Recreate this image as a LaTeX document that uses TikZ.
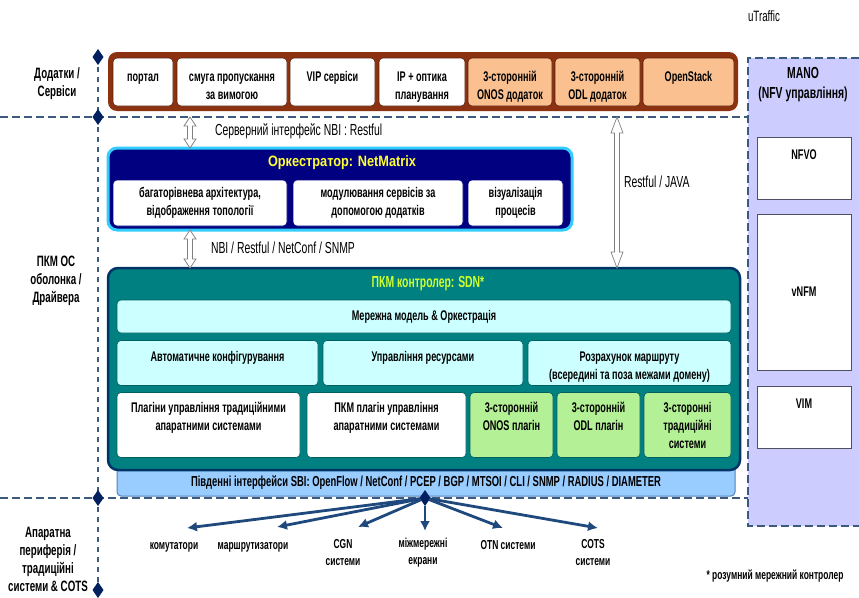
\documentclass[tikz,border=0pt]{standalone}
\usepackage{fontspec}
\setmainfont{Liberation Sans}[FakeStretch=0.65]
\newfontfamily\titlefont{Liberation Sans}[FakeStretch=0.85]
\usetikzlibrary{shapes.geometric,arrows.meta,calc}

\definecolor{c8c3210}{RGB}{140,50,16}
\definecolor{c5a1e0a}{RGB}{90,30,10}
\definecolor{cfac090}{RGB}{250,192,144}
\definecolor{c000080}{RGB}{0,0,128}
\definecolor{c33ccff}{RGB}{51,204,255}
\definecolor{cffff33}{RGB}{255,255,51}
\definecolor{c008080}{RGB}{0,128,128}
\definecolor{c006060}{RGB}{0,96,96}
\definecolor{c003366}{RGB}{0,51,102}
\definecolor{cccff33}{RGB}{204,255,51}
\definecolor{cccffff}{RGB}{204,255,255}
\definecolor{cb4f096}{RGB}{180,240,150}
\definecolor{c99ccff}{RGB}{153,204,255}
\definecolor{c4f81bd}{RGB}{79,129,189}
\definecolor{cccccff}{RGB}{204,204,255}
\definecolor{c3c5a7d}{RGB}{60,90,125}
\definecolor{c002060}{RGB}{0,32,96}
\definecolor{c1f497d}{RGB}{31,73,125}
\definecolor{c808080}{RGB}{128,128,128}
\definecolor{c505064}{RGB}{80,80,100}

\tikzset{
  cellsize/.style 2 args={minimum width=#1, text width=#1, minimum height=#2},
  cellbox/.style={rounded corners=4pt, align=flush center, line width=0.6pt},
  appcell/.style={cellbox, fill=white, draw=c5a1e0a, text height=19pt, text depth=20pt},
  tpcell/.style={appcell, fill=cfac090},
  orchcell/.style={cellbox, fill=white, draw=c000080},
  ctrlcell/.style={cellbox, fill=cccffff, draw=c006060},
  rowtwo/.style={text height=17pt, text depth=20pt},
  plugcell/.style={cellbox, fill=white, draw=c006060, text height=5pt, text depth=30pt},
  greencell/.style={plugcell, fill=cb4f096},
  manocell/.style={fill=white, draw=c505064, line width=1pt, minimum width=94},
  upper/.style={text height=8pt, text depth=25pt},
  sepline/.style={draw=c3c5a7d, line width=1.6pt, dash pattern=on 8pt off 4pt},
  vsepline/.style={draw=c3c5a7d, line width=1.4pt, dash pattern=on 5pt off 5pt},
  joint/.style={diamond, fill=c002060, minimum width=11pt, minimum height=16pt},
  hubarrow/.style={draw=c1f497d, line width=2.8pt, -{Latex[length=10pt,width=10pt]}},
  iflabel/.style={anchor=west, font=\fontsize{16}{18}\selectfont},
  hollowarrow/.style={draw=c808080, fill=white, line width=0.7pt,
    to path={let \p1=(\tikztostart), \p2=(\tikztotarget) in
      (\x1,\y1) -- (\x1+6pt,\y1-#1) -- (\x1+2.5pt,\y1-#1) -- (\x1+2.5pt,\y2+#1)
      -- (\x1+6pt,\y2+#1) -- (\x1,\y2) -- (\x1-6pt,\y2+#1) -- (\x1-2.5pt,\y2+#1)
      -- (\x1-2.5pt,\y1-#1) -- (\x1-6pt,\y1-#1) -- cycle}},
  hollowarrow/.default=9pt
}

\begin{document}
\begin{tikzpicture}[x=1pt, y=-1pt, inner sep=0pt, outer sep=0pt,
  font=\bfseries\fontsize{14}{18}\selectfont]
\useasboundingbox (0,0) rectangle (859,597);

% NFV management column
\node[fill=cccccff, anchor=north west, minimum width=111, minimum height=468] (mano) at (748,58) {};
\draw[sepline] (mano.north east) -- (mano.north west) -- (mano.south west) -- (mano.south east);

% layer separators
\draw[sepline] (0,117) -- (748,117);
\draw[sepline] (0,498) -- (748,498);
\draw[vsepline] (98,57) -- (98,590);

% applications / services
\node[fill=c8c3210, rounded corners=9pt, minimum width=630, minimum height=59] (appbar) at (423,81.5) {};
\node[appcell, cellsize={60}{48}] (portal) at (143,82) {портал};
\node[appcell, cellsize={110}{48}] (bandwidth) at (232,82) {смуга пропускання\\за вимогою};
\node[appcell, cellsize={85}{48}] (vip) at (332.5,82) {VIP сервіси};
\node[appcell, cellsize={86}{48}] (ipoptic) at (422,82) {IP + оптика\\планування};
\node[tpcell, cellsize={84}{48}] (onosapp) at (510,82) {3-сторонній\\ONOS додаток};
\node[tpcell, cellsize={85}{48}] (odlapp) at (597.5,82) {3-сторонній\\ODL додаток};
\node[tpcell, cellsize={91}{48}] (openstack) at (688.5,82) {OpenStack};

% orchestrator
\node[fill=c000080, draw=c33ccff, line width=3pt, rounded corners=9pt, minimum width=464, minimum height=82] (orch) at (340,189) {};
\node[text=cffff33, font=\titlefont\bfseries\fontsize{15}{18}\selectfont] (orchtitle) at (342,163) {Оркестратор: NetMatrix};
\node[orchcell, cellsize={174}{46}] (multilevel) at (200,203) {багаторівнева архітектура,\\відображення топології};
\node[orchcell, cellsize={170}{46}] (modelling) at (378,203) {модулювання сервісів за\\допомогою додатків};
\node[orchcell, cellsize={95}{46}] (visual) at (515.5,203) {візуалізація\\процесів};

% controller
\node[fill=c99ccff, draw=c4f81bd, line width=1pt, rounded corners=4pt, minimum width=618, minimum height=32,
  text height=14pt, text depth=1pt, font=\bfseries\fontsize{14.5}{18}\selectfont] (sbi) at (426,480)
  {Південні інтерфейси SBI: OpenFlow / NetConf / PCEP / BGP / MTSOI / CLI / SNMP / RADIUS / DIAMETER};
\node[fill=c008080, draw=c003366, line width=2.5pt, rounded corners=10pt, minimum width=632, minimum height=202] (ctrl) at (424,369) {};
\node[text=cccff33, font=\bfseries\fontsize{16}{18}\selectfont] (ctrltitle) at (428,284) {ПКМ контролер: SDN*};
\node[ctrlcell, cellsize={614}{33}] (netmodel) at (424,316.5) {Мережна модель \& Оркестрація};
\node[ctrlcell, rowtwo, cellsize={201}{45}] (autoconf) at (217.5,363) {Автоматичне конфігурування};
\node[ctrlcell, rowtwo, cellsize={200}{45}] (resources) at (423,363) {Управління ресурсами};
\node[ctrlcell, rowtwo, cellsize={203}{45}] (routing) at (629.5,363) {Розрахунок маршруту\\(всередині та поза межами домену)};
\node[plugcell, cellsize={183}{65}] (legacyplug) at (208.5,425) {Плагіни управління традиційними\\апаратними системами};
\node[plugcell, cellsize={159}{65}] (sdnplug) at (386.5,425) {ПКМ плагін управління\\апаратними системами};
\node[greencell, cellsize={83}{65}] (onosplug) at (511.5,425) {3-сторонній\\ONOS плагін};
\node[greencell, cellsize={83}{65}] (odlplug) at (598.5,425) {3-сторонній\\ODL плагін};
\node[greencell, cellsize={87}{65}] (legacysys) at (687.5,425) {3-сторонні\\традиційні\\системи};

% northbound interfaces
\coordinate (nbiTop) at (190,117);
\coordinate (javaTop) at (617,117);
\draw[hollowarrow] (nbiTop) to (nbiTop |- orch.north);
\draw[hollowarrow] (nbiTop |- orch.south) to (nbiTop |- ctrl.north);
\draw[hollowarrow=16pt] (javaTop) to (javaTop |- ctrl.north);
\node[iflabel] (nbilabel) at (215,131) {Серверний інтерфейс NBI : Restful};
\node[iflabel] (nbi2label) at (211,248) {NBI / Restful / NetConf / SNMP};
\node[iflabel] (javalabel) at (624,182) {Restful / JAVA};

% layer markers
\node[joint] (m1) at (98,57) {};
\node[joint] (m2) at (98,117) {};
\node[joint] (m3) at (98,498) {};
\node[joint] (m4) at (98,590) {};
\node[joint] (hub) at (425,498) {};

% hardware periphery
\begin{scope}[font=\bfseries\fontsize{13}{17}\selectfont]
\node (switches) at (174,547) {комутатори};
\node (routers) at (253,547) {маршрутизатори};
\node[align=center] (cgn) at (343,553) {CGN\\системи};
\node[align=center] (firewalls) at (423,553) {міжмережні\\екрани};
\node (otn) at (508,545) {OTN системи};
\node[align=center] (cots) at (593,553) {COTS\\системи};
\end{scope}
\coordinate (switchesTip) at (187,528);
\coordinate (routersTip) at (277,527);
\coordinate (cgnTip) at (358,527);
\coordinate (firewallsTip) at (425,531);
\coordinate (otnTip) at (503,528);
\coordinate (cotsTip) at (598,528);
\foreach \t in {switchesTip,routersTip,cgnTip,firewallsTip,otnTip,cotsTip}
  \draw[hubarrow] (hub) -- (\t);

% layer names
\begin{scope}[font=\bfseries\fontsize{15}{18}\selectfont]
\node[align=center] (appslbl) at (57,84) {Додатки /\\Сервіси};
\node[align=center] (oslbl) at (56,281) {ПКМ ОС\\оболонка /\\Драйвера};
\node[align=center] (hwlbl) at (48,559) {Апаратна\\периферія /\\традиційні\\системи \& COTS};
\end{scope}

% MANO
\node[align=center, font=\bfseries\fontsize{16}{20}\selectfont] (manotitle) at (803,85) {MANO\\(NFV управління)};
\node[manocell, upper, minimum height=62] (nfvo) at (804,168) {NFVO};
\node[manocell, minimum height=156] (vnfm) at (804,292) {vNFM};
\node[manocell, upper, minimum height=62] (vim) at (804,417) {VIM};

\node[font=\fontsize{15}{18}\selectfont] (utraffic) at (764,16) {uTraffic};
\node[font=\bfseries\fontsize{13}{16}\selectfont] (footnote) at (775,576) {* розумний мережний контролер};
\end{tikzpicture}
\end{document}
